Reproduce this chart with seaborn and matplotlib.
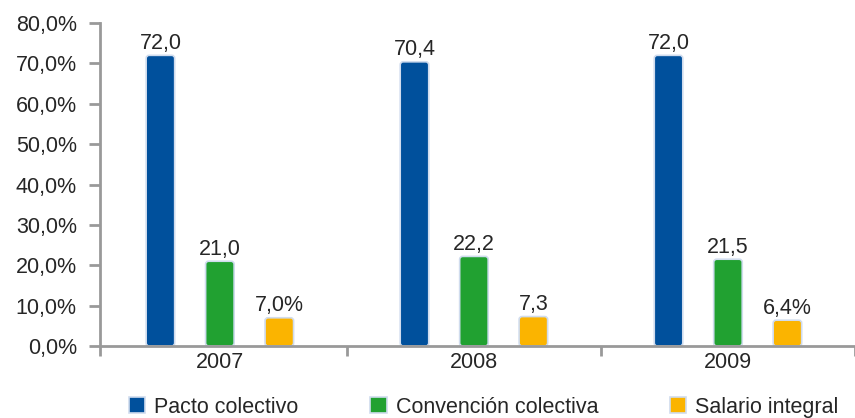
import pandas as pd
import seaborn as sns
import matplotlib.pyplot as plt
from matplotlib.patches import FancyBboxPatch
from matplotlib.ticker import FixedLocator, FuncFormatter

years = ["2007", "2008", "2009"]
series = ["Pacto colectivo", "Convención colectiva", "Salario integral"]
pacto = [72.0, 70.4, 72.0]
convencion = [21.0, 22.2, 21.5]
salario = [7.0, 7.3, 6.4]
bar_labels = {
    "Pacto colectivo": ["72,0", "70,4", "72,0"],
    "Convención colectiva": ["21,0", "22,2", "21,5"],
    "Salario integral": ["7,0%", "7,3", "6,4%"],
}
colors = ["#00509c", "#21a131", "#fbb400"]

df = pd.DataFrame({
    "year": years * 3,
    "serie": [s for s in series for _ in years],
    "valor": pacto + convencion + salario,
})

sns.set_style("white")
plt.rcParams["font.family"] = ["Liberation Sans", "DejaVu Sans"]
fs = 15.5

fig = plt.figure(figsize=(8.55, 4.18), dpi=100)
ax = fig.add_axes([0.1175, 0.1722, 0.8825, 0.7727])

sns.barplot(data=df, x="year", y="valor", hue="serie", hue_order=series,
            palette=colors, saturation=1, width=0.702, gap=0.52, ax=ax,
            edgecolor="#d0dcee", linewidth=1.2, legend=True)

ax.set_ylim(0, 80)
ax.set_xlim(-0.47, 2.5)

# labels first, then swap the bars for rounded ones
for cont, s in zip(ax.containers, series):
    ax.bar_label(cont, labels=bar_labels[s], padding=1, fontsize=fs)
    for r in cont:
        x, y, w, h = r.get_x(), r.get_y(), r.get_width(), r.get_height()
        fb = FancyBboxPatch((x, y), w, h, boxstyle="round,pad=0,rounding_size=0.012",
                            mutation_aspect=63, facecolor=r.get_facecolor(),
                            edgecolor="#d0dcee", linewidth=1.2, zorder=r.get_zorder())
        ax.add_patch(fb)
        r.set_visible(False)

ax.set_yticks(range(0, 81, 10))
ax.yaxis.set_major_formatter(FuncFormatter(lambda v, p: f"{v:.1f}%".replace(".", ",")))
ax.tick_params(axis="y", labelsize=fs, length=8, width=2, color="#999999", direction="out", left=True, pad=9)
ax.tick_params(axis="x", which="major", labelsize=fs, length=0, pad=4)
ax.xaxis.set_minor_locator(FixedLocator([-0.47, 0.5, 1.5, 2.5]))
ax.tick_params(axis="x", which="minor", length=7, width=2, color="#999999", bottom=True)
ax.set_xlabel("")
ax.set_ylabel("")

for side in ["top", "right"]:
    ax.spines[side].set_visible(False)
for side in ["left", "bottom"]:
    ax.spines[side].set_color("#999999")
    ax.spines[side].set_linewidth(2)

ax.legend(loc="center", bbox_to_anchor=(0.508, -0.19), ncol=3, frameon=False,
          fontsize=fs, handlelength=0.75, handleheight=0.75, columnspacing=3.35,
          handletextpad=0.42)

fig.savefig("out.png", dpi=100)
